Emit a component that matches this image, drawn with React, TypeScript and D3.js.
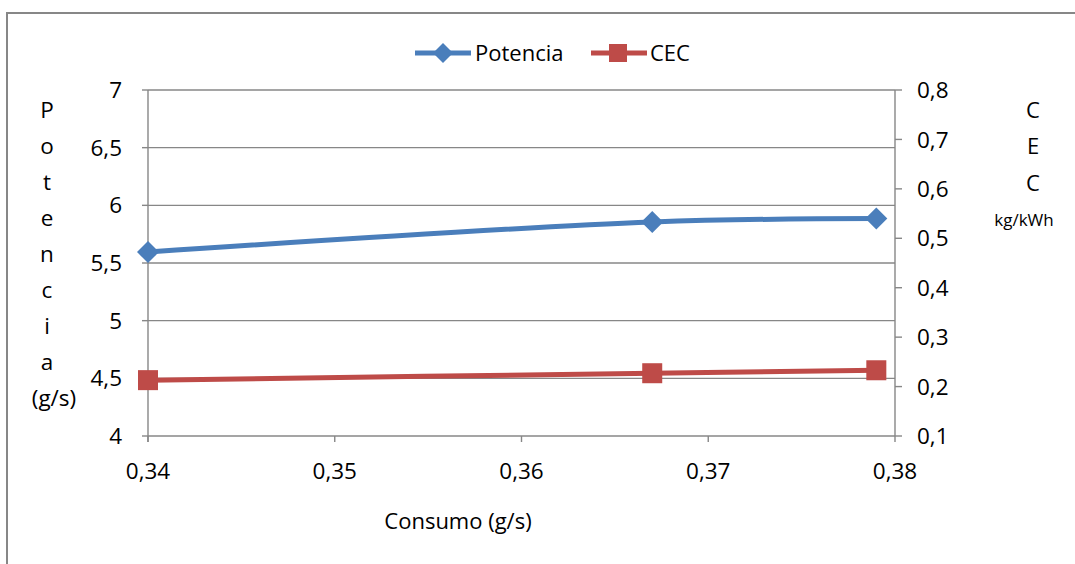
import React from "react";
import * as d3 from "d3";

const consumo = [0.34, 0.367, 0.379];
const potencia = [5.595, 5.855, 5.885];
const cec = [0.213, 0.227, 0.233];
const xTicks = [0.34, 0.35, 0.36, 0.37, 0.38];
const leftTicks = [4, 4.5, 5, 5.5, 6, 6.5, 7];
const rightTicks = [0.1, 0.2, 0.3, 0.4, 0.5, 0.6, 0.7, 0.8];
const leftTitle = ["P", "o", "t", "e", "n", "c", "i", "a", "(g/s)"];
const rightTitle = ["C", "E", "C"];

const W = 1075, H = 564;
const L = 148, R = 895, T = 90, B = 436;
const BLUE = "#4A7EBB", RED = "#BE4B48", GRID = "#878787";
const FONT = "'Open Sans', 'Liberation Sans', sans-serif";
const fmt = (v: number) => String(+v.toFixed(2)).replace(".", ",");

export default function App() {
  const x = d3.scaleLinear().domain([0.34, 0.38]).range([L, R]);
  const yL = d3.scaleLinear().domain([4, 7]).range([B, T]);
  const yR = d3.scaleLinear().domain([0.1, 0.8]).range([B, T]);
  const line = d3.line<[number, number]>().x(d => d[0]).y(d => d[1]).curve(d3.curveCatmullRom.alpha(0.5));
  const pPts: [number, number][] = consumo.map((c, i) => [x(c), yL(potencia[i])]);
  const cPts: [number, number][] = consumo.map((c, i) => [x(c), yR(cec[i])]);
  const diamond = (cx: number, cy: number, s: number) => `M${cx},${cy - s}L${cx + s},${cy}L${cx},${cy + s}L${cx - s},${cy}Z`;
  return (
    <svg width={W} height={H} style={{ position: "absolute", left: 0, top: 0, fontFamily: FONT }}>
      <rect x={0} y={0} width={W} height={H} fill="#fff" />
      <rect x={7} y={13} width={W + 10} height={H + 10} fill="none" stroke="#878787" strokeWidth={2} />
      {/* gridlines */}
      {leftTicks.map(t => (
        <line key={"g" + t} x1={L} x2={R} y1={yL(t)} y2={yL(t)} stroke={GRID} strokeWidth={1.4} />
      ))}
      {/* left axis */}
      <line x1={L} x2={L} y1={T} y2={B + 6} stroke={GRID} strokeWidth={1.4} />
      {leftTicks.map(t => (
        <g key={"l" + t}>
          <line x1={L - 6} x2={L} y1={yL(t)} y2={yL(t)} stroke={GRID} strokeWidth={1.4} />
          <text x={122} y={yL(t)} dy="0.36em" textAnchor="end" fontSize={22.5}>{fmt(t)}</text>
        </g>
      ))}
      {/* right axis */}
      <line x1={R} x2={R} y1={T} y2={B} stroke={GRID} strokeWidth={1.4} />
      {rightTicks.map(t => (
        <g key={"r" + t}>
          <line x1={R} x2={R + 7} y1={yR(t)} y2={yR(t)} stroke={GRID} strokeWidth={1.4} />
          <text x={917} y={yR(t)} dy="0.36em" textAnchor="start" fontSize={22.5}>{fmt(t)}</text>
        </g>
      ))}
      {/* bottom axis */}
      {xTicks.map(t => (
        <g key={"x" + t}>
          <line x1={x(t)} x2={x(t)} y1={B} y2={B + 6} stroke={GRID} strokeWidth={1.4} />
          <text x={x(t)} y={471} dy="0.36em" textAnchor="middle" fontSize={22.5}>{fmt(t)}</text>
        </g>
      ))}
      <text x={458} y={521} dy="0.36em" textAnchor="middle" fontSize={22}>Consumo (g/s)</text>
      {leftTitle.map((s, i) => (
        <text key={"lt" + i} x={i === leftTitle.length - 1 ? 54 : 47} y={110 + i * 36} dy="0.36em" textAnchor="middle" fontSize={22.5}>{s}</text>
      ))}
      {rightTitle.map((s, i) => (
        <text key={"rt" + i} x={1033} y={110 + i * 36.5} dy="0.36em" textAnchor="middle" fontSize={22}>{s}</text>
      ))}
      <text x={1024} y={220} dy="0.36em" textAnchor="middle" fontSize={17}>kg/kWh</text>
      {/* series */}
      <path d={line(pPts) || ""} fill="none" stroke={BLUE} strokeWidth={5} />
      <path d={line(cPts) || ""} fill="none" stroke={RED} strokeWidth={5} />
      {pPts.map((p, i) => <path key={"pm" + i} d={diamond(p[0], p[1], 11)} fill={BLUE} />)}
      {cPts.map((p, i) => <rect key={"cm" + i} x={p[0] - 10} y={p[1] - 10} width={20} height={20} fill={RED} />)}
      {/* legend */}
      <line x1={415} x2={471} y1={53} y2={53} stroke={BLUE} strokeWidth={5} />
      <path d={diamond(443, 53, 10)} fill={BLUE} />
      <text x={475} y={53} dy="0.36em" fontSize={22}>Potencia</text>
      <line x1={591} x2={647} y1={53} y2={53} stroke={RED} strokeWidth={5} />
      <rect x={609} y={44} width={18} height={18} fill={RED} />
      <text x={650} y={53} dy="0.36em" fontSize={22}>CEC</text>
    </svg>
  );
}
